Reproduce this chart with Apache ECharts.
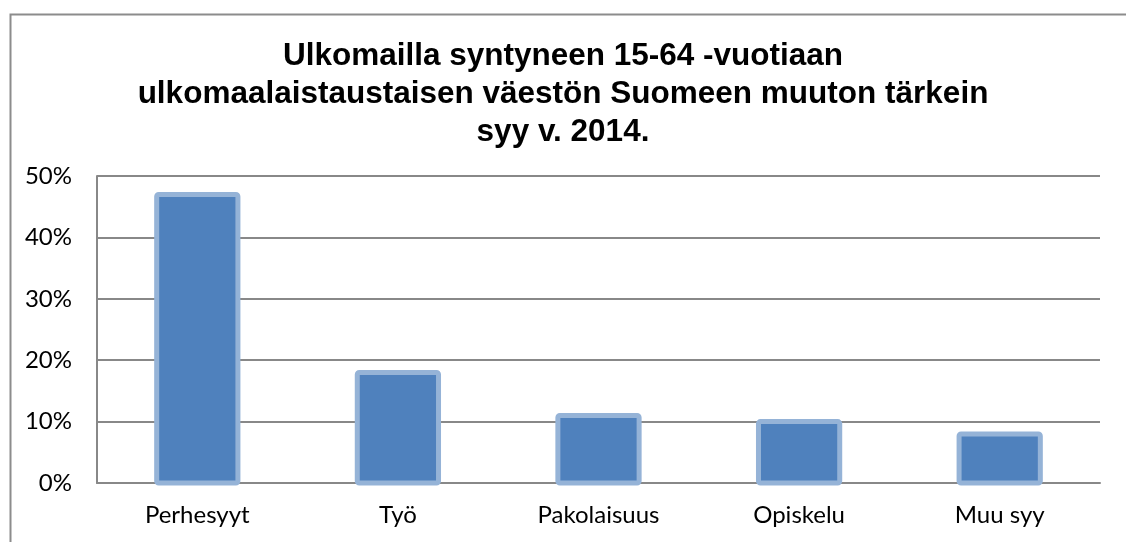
<!DOCTYPE html>
<html>
<head>
<meta charset="utf-8">
<script src="https://cdn.jsdelivr.net/npm/echarts@6/dist/echarts.min.js"></script>
<style>
html,body{margin:0;padding:0;background:#fff;}
#chart{width:1126px;height:542px;}
</style>
</head>
<body>
<div id="chart"></div>
<script>
const titleText = 'Ulkomailla syntyneen 15-64 -vuotiaan\nulkomaalaistaustaisen väestön Suomeen muuton tärkein\nsyy v. 2014.';
const categories = ['Perhesyyt', 'Työ', 'Pakolaisuus', 'Opiskelu', 'Muu syy'];
const values = [47, 18, 11, 10, 8];
const yTicks = { min: 0, max: 50, interval: 10 };

const chart = echarts.init(document.getElementById('chart'), null, { renderer: 'canvas' });
chart.setOption({
  animation: false,
  backgroundColor: '#ffffff',
  graphic: [
    { type: 'rect', left: 8, top: 12, silent: true,
      shape: { width: 1200, height: 600 },
      style: { fill: 'none', stroke: '#8c8c8c', lineWidth: 2 } }
  ],
  title: {
    text: titleText,
    left: 558,
    top: 32,
    textAlign: 'center',
    textStyle: {
      fontFamily: '"Liberation Sans", Arial, sans-serif',
      fontWeight: 'bold',
      fontSize: 31.5,
      lineHeight: 38,
      color: '#000'
    }
  },
  grid: { left: 97, right: 26, top: 176, bottom: 59, containLabel: false },
  xAxis: {
    type: 'category',
    data: categories,
    axisLine: { show: true, lineStyle: { color: '#888888', width: 2 } },
    axisTick: { show: false },
    axisLabel: { color: '#000', fontFamily: 'Lato, sans-serif', fontSize: 24, margin: 20 }
  },
  yAxis: {
    type: 'value',
    min: yTicks.min, max: yTicks.max, interval: yTicks.interval,
    axisLine: { show: true, lineStyle: { color: '#888888', width: 2 } },
    axisTick: { show: false },
    splitLine: { show: true, lineStyle: { color: '#888888', width: 2 } },
    axisLabel: { color: '#000', fontFamily: 'Lato, sans-serif', fontSize: 24, margin: 25,
      formatter: v => v + '%' }
  },
  series: [{
    type: 'custom',
    data: values.map((v, i) => [i, v]),
    encode: { x: 0, y: 1 },
    renderItem: function (params, api) {
      const top = api.coord([api.value(0), api.value(1)]);
      const base = api.coord([api.value(0), 0]);
      const w = api.size([1, 0])[0] * 0.405;
      return {
        type: 'rect',
        shape: { x: top[0] - w / 2, y: top[1], width: w, height: base[1] - top[1], r: 2 },
        style: { fill: '#4F81BD', stroke: '#95B3D7', lineWidth: 5 }
      };
    }
  }]
});
</script>
</body>
</html>
